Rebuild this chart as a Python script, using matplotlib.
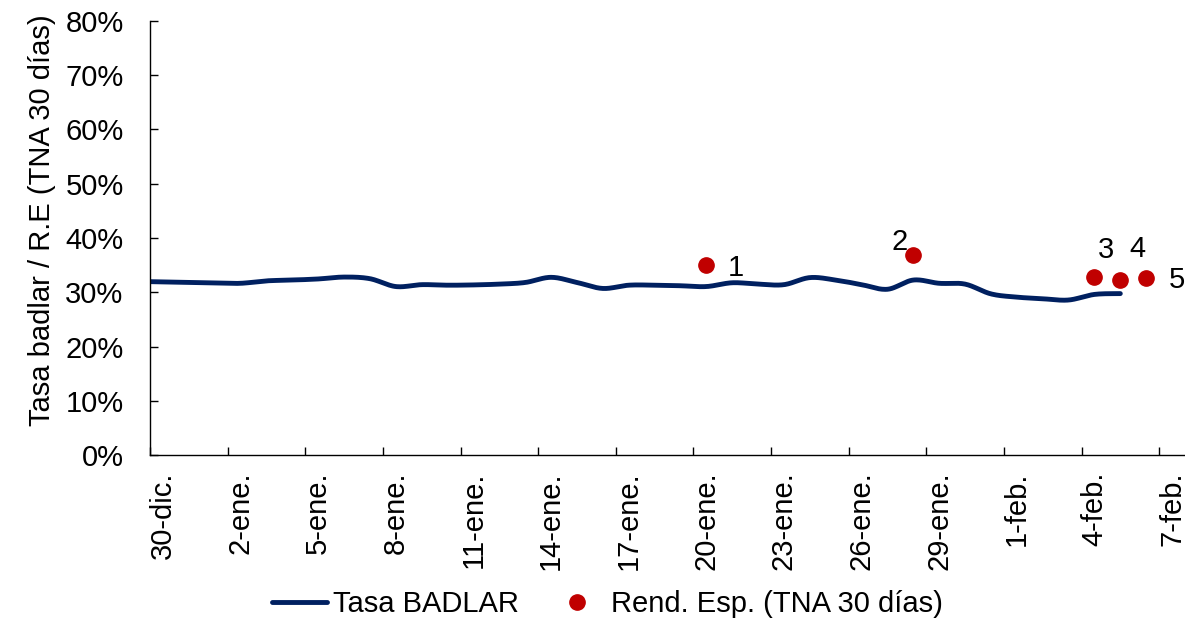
import numpy as np
import matplotlib
matplotlib.use("Agg")
import matplotlib.pyplot as plt
from matplotlib.ticker import FuncFormatter

plt.rcParams['font.family'] = ['Liberation Sans', 'DejaVu Sans']

# --- datos (día 0 = 30-dic) ---
badlar_days = list(range(-1, 38))
badlar_vals = [32.0, 31.9, 31.8, 31.7, 31.65, 32.1, 32.25, 32.45, 32.8, 32.5, 31.05,
               31.4, 31.3, 31.35, 31.5, 31.8, 32.75, 31.8, 30.7, 31.3, 31.3,
               31.2, 31.05, 31.75, 31.5, 31.4, 32.7, 32.25, 31.4, 30.55, 32.25,
               31.65, 31.5, 29.7, 29.1, 28.8, 28.57, 29.6, 29.75]

re_days = [21, 29, 36, 37, 38]
re_vals = [35.0, 36.9, 32.9, 32.3, 32.6]
re_labels = ['1', '2', '3', '4', '5']
re_offsets = [(21, -2), (-10, 9), (8, 19), (12, 22), (22, -1)]

tick_days = list(range(0, 40, 3))
tick_labels = ['30-dic.', '2-ene.', '5-ene.', '8-ene.', '11-ene.', '14-ene.', '17-ene.',
               '20-ene.', '23-ene.', '26-ene.', '29-ene.', '1-feb.', '4-feb.', '7-feb.']

NAVY = '#002060'
RED = '#C00000'
FS = 21


def smooth(x, y, n=24):
    # curva suavizada tipo Excel (Catmull-Rom)
    pts = np.column_stack([x, y]).astype(float)
    p = np.vstack([pts[0], pts, pts[-1]])
    t = np.linspace(0, 1, n, endpoint=False)[:, None]
    out = []
    for i in range(1, len(p) - 2):
        p0, p1, p2, p3 = p[i - 1], p[i], p[i + 1], p[i + 2]
        seg = 0.5 * (2 * p1 + (-p0 + p2) * t + (2 * p0 - 5 * p1 + 4 * p2 - p3) * t ** 2
                     + (-p0 + 3 * p1 - 3 * p2 + p3) * t ** 3)
        out.append(seg)
    out.append(p[-2][None])
    out = np.vstack(out)
    return out[:, 0], out[:, 1]


fig = plt.figure(figsize=(11.85, 6.22), dpi=100)
ax = fig.add_axes([150 / 1185, 1 - 455 / 622, 1 - 150 / 1185, (455 - 21) / 622])

sx, sy = smooth(badlar_days, badlar_vals)
ax.plot(sx, sy, color=NAVY, lw=3.5, solid_capstyle='round', label='Tasa BADLAR')
ax.plot(re_days, re_vals, 'o', color=RED, ms=11, label='Rend. Esp. (TNA 30 días)')

for d, v, lab, off in zip(re_days, re_vals, re_labels, re_offsets):
    ax.annotate(lab, (d, v), xytext=off, textcoords='offset points',
                ha='center', va='center', fontsize=FS)

ax.set_xlim(-0.5, 39.5)
ax.set_ylim(0, 80)
ax.set_yticks(range(0, 81, 10))
ax.yaxis.set_major_formatter(FuncFormatter(lambda v, p: f'{v:.0f}%'))

# marcas en los límites de día, etiquetas centradas en el día
ax.set_xticks([d - 0.5 for d in tick_days])
ax.set_xticklabels([])
ax.set_xticks(tick_days, minor=True)
ax.set_xticklabels(tick_labels, minor=True, rotation=90, fontsize=FS)
ax.tick_params(axis='x', which='major', direction='in', length=6, width=1)
ax.tick_params(axis='x', which='minor', length=0, pad=12)
ax.tick_params(axis='y', direction='in', length=6, width=1, pad=19, labelsize=FS)

for s in ['top', 'right']:
    ax.spines[s].set_visible(False)
for s in ['left', 'bottom']:
    ax.spines[s].set_linewidth(1.0)
    ax.spines[s].set_color('black')

fig.text(42 / 1185, 1 - 220 / 622, 'Tasa badlar / R.E (TNA 30 días)', rotation=90,
         ha='center', va='center', fontsize=FS)

fig.legend(loc='center', bbox_to_anchor=(607 / 1185, 1 - 604 / 622), ncol=2,
           frameon=False, fontsize=FS, handlelength=1.9, handletextpad=0.2,
           columnspacing=1.05)

fig.savefig('out.png', dpi=100)
